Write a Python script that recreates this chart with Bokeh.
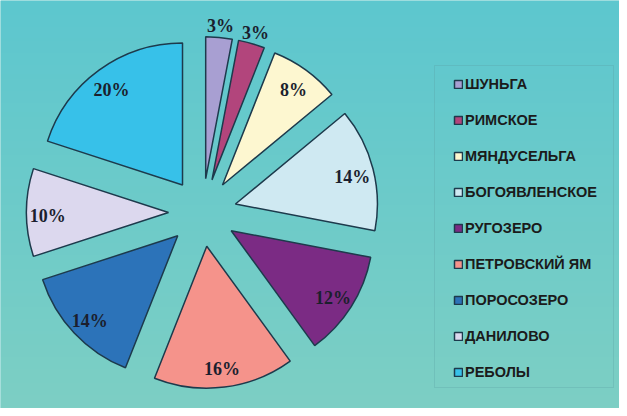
import numpy as np
from bokeh.plotting import figure
from bokeh.models import ColumnDataSource, Legend, LegendItem, Range1d, BoxAnnotation
from bokeh.embed import file_html
from bokeh.resources import INLINE
from bokeh.core.properties import value

# ---- data ----
names = ["ШУНЬГА", "РИМСКОЕ", "МЯНДУСЕЛЬГА", "БОГОЯВЛЕНСКОЕ", "РУГОЗЕРО",
         "ПЕТРОВСКИЙ ЯМ", "ПОРОСОЗЕРО", "ДАНИЛОВО", "РЕБОЛЫ"]
shares = [3, 3, 8, 14, 12, 16, 14, 10, 20]
colors = ["#a89fd2", "#b2457c", "#fdf7d0", "#cfe9f2", "#7b2b84",
          "#f5938b", "#2c73b9", "#dcd8ee", "#37c1e9"]
labels = [f"{v}%" for v in shares]

# ---- geometry (pixel-like data units) ----
W, H = 619, 408
cx, cy = 202, 196
R = 142
EXPLODE = 34

vals = np.array(shares, dtype=float)
frac = vals / vals.sum()
cum = np.concatenate([[0.0], np.cumsum(frac)])
a0 = cum[:-1] * 2 * np.pi          # clockwise from 12 o'clock
a1 = cum[1:] * 2 * np.pi
mid = (a0 + a1) / 2
dx, dy = np.sin(mid), np.cos(mid)
xs = cx + EXPLODE * dx
ys = cy + EXPLODE * dy
start = np.pi / 2 - a1
end = np.pi / 2 - a0
lab_r = np.where(frac < 0.05, 1.1 * R, 0.85 * R)
lx = xs + lab_r * dx
ly = ys + lab_r * dy - 3

src = ColumnDataSource(dict(x=xs, y=ys, start=start, end=end, color=colors,
                            name=names, lx=lx, ly=ly, label=labels))

p = figure(width=W, height=H, output_backend="svg", toolbar_location=None,
           x_range=Range1d(0, W), y_range=Range1d(0, H),
           x_axis_type=None, y_axis_type=None, min_border=0)
p.outline_line_color = None
p.xgrid.visible = False
p.ygrid.visible = False
p.background_fill_color = "#6ccbca"
p.border_fill_color = "white"

# background vertical gradient
n = 204
t = np.linspace(0, 1, n)
top = np.array([0x5d, 0xc7, 0xcf], dtype=float)
bot = np.array([0x7d, 0xcf, 0xc4], dtype=float)
rgb = bot + (top - bot) * t[:, None]
img = np.empty((n, 1), dtype=np.uint32)
view = img.view(dtype=np.uint8).reshape((n, 1, 4))
view[:, 0, 0] = rgb[:, 0].astype(np.uint8)
view[:, 0, 1] = rgb[:, 1].astype(np.uint8)
view[:, 0, 2] = rgb[:, 2].astype(np.uint8)
view[:, 0, 3] = 255
p.image_rgba(image=[img], x=0, y=0, dw=W, dh=H)

wr = p.wedge(x="x", y="y", radius=R, start_angle="start", end_angle="end",
             direction="anticlock", fill_color="color", line_color="#1d3a4c",
             line_width=1.5, source=src)

p.text(x="lx", y="ly", text="label", source=src,
       text_font=value("Liberation Serif"), text_font_style="bold",
       text_font_size="18px", text_color="#1b1f2e",
       text_align="center", text_baseline="middle")

# legend frame
p.add_layout(BoxAnnotation(left=434, right=613, bottom=21, top=343,
                           fill_alpha=0, line_color="#5a9ea2", line_width=1))

legend = Legend(items=[LegendItem(label=nm, renderers=[wr], index=i)
                       for i, nm in enumerate(names)],
                location=(453, 28), orientation="vertical",
                glyph_width=10, glyph_height=10, label_height=10,
                label_width=10, spacing=20, padding=0, margin=0,
                label_standoff=2,
                label_text_font="Liberation Sans", label_text_font_style="bold",
                label_text_font_size="14.5px", label_text_color="#1b1b1b",
                border_line_alpha=0, background_fill_alpha=0)
p.add_layout(legend)

open("out.html", "w").write(file_html(p, INLINE))
